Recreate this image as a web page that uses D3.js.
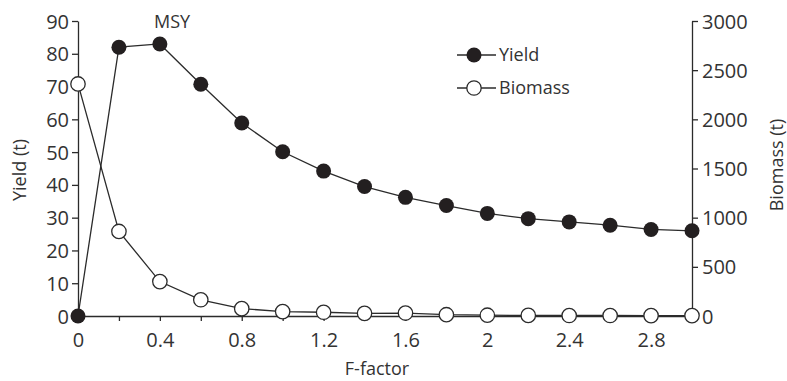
<!DOCTYPE html>
<html><head><meta charset="utf-8">
<script src="https://cdn.jsdelivr.net/npm/d3@7"></script>
<style>
body{margin:0;background:#fff;}
text{font-family:"Open Sans","Noto Sans",sans-serif;fill:#333;}
</style></head>
<body><svg id="c" width="787" height="381"></svg>
<script>
const fFactor = [0,0.2,0.4,0.6,0.8,1.0,1.2,1.4,1.6,1.8,2.0,2.2,2.4,2.6,2.8,3.0];
const yieldT = [0,82,83,70.7,58.9,50.1,44.2,39.5,36.2,33.7,31.3,29.7,28.7,27.7,26.4,26.0];
const biomassT = [2360,860,350,165,75,45,38,27,30,13,8,6,5,5,4,4];
const xTicks = [0,0.2,0.4,0.6,0.8,1.0,1.2,1.4,1.6,1.8,2.0,2.2,2.4,2.6,2.8,3.0];
const xLabels = [0,0.4,0.8,1.2,1.6,2,2.4,2.8];
const yTicks = [0,10,20,30,40,50,60,70,80,90];
const bTicks = [0,500,1000,1500,2000,2500,3000];

const svg = d3.select("#c");
const L=78,R=692,T=21,B=316;
const x = d3.scaleLinear().domain([0,3]).range([L,R]);
const y = d3.scaleLinear().domain([0,90]).range([B,T]);
const yb = d3.scaleLinear().domain([0,3000]).range([B,T]);
const ink="#2b2b2b";

// axes
const gx = svg.append("g").attr("transform",`translate(0,${B})`)
  .call(d3.axisBottom(x).tickValues(xTicks).tickSize(5).tickSizeOuter(0)
    .tickFormat(d=>xLabels.some(v=>Math.abs(v-d)<1e-9)?String(+d.toFixed(1)):""));
const gy = svg.append("g").attr("transform",`translate(${L},0)`)
  .call(d3.axisLeft(y).tickValues(yTicks).tickSize(6).tickSizeOuter(0));
const gb = svg.append("g").attr("transform",`translate(${R},0)`)
  .call(d3.axisRight(yb).tickValues(bTicks).tickSize(6).tickSizeOuter(0).tickFormat(d3.format("d")));
[gx,gy,gb].forEach(g=>{
  g.selectAll("path,line").attr("stroke",ink).attr("stroke-width",1.3);
  g.selectAll("text").style("font-size","20px").attr("fill","#333");
});
gx.selectAll("text").attr("dy","0").attr("y",31);
gy.selectAll("text").attr("x",-9).attr("dy","0.35em");
gb.selectAll("text").attr("x",10).attr("dy","0.35em");

// lines
const lineY = d3.line().x((d,i)=>x(fFactor[i])).y(d=>y(d));
const lineB = d3.line().x((d,i)=>x(fFactor[i])).y(d=>yb(d));
svg.append("path").datum(biomassT).attr("d",lineB).attr("fill","none").attr("stroke",ink).attr("stroke-width",1.3);
svg.append("path").datum(yieldT).attr("d",lineY).attr("fill","none").attr("stroke",ink).attr("stroke-width",1.3);

svg.append("g").selectAll("circle").data(biomassT).join("circle")
  .attr("cx",(d,i)=>x(fFactor[i])).attr("cy",d=>yb(d)).attr("r",7.2)
  .attr("fill","#fff").attr("stroke",ink).attr("stroke-width",1.3);
svg.append("g").selectAll("circle").data(yieldT).join("circle")
  .attr("cx",(d,i)=>x(fFactor[i])).attr("cy",d=>y(d)).attr("r",7.5)
  .attr("fill","#231f20");

// titles
svg.append("text").attr("x",377).attr("y",375).attr("text-anchor","middle").style("font-size","18px").text("F-factor");
svg.append("text").attr("transform","translate(26,170) rotate(-90)").attr("text-anchor","middle").style("font-size","18px").text("Yield (t)");
svg.append("text").attr("transform","translate(783,165) rotate(-90)").attr("text-anchor","middle").style("font-size","18px").text("Biomass (t)");
svg.append("text").attr("x",172).attr("y",28).attr("text-anchor","middle").style("font-size","18px").text("MSY");

// legend
const lg = svg.append("g");
const leg = [{name:"Yield",fill:"#231f20",cy:55},{name:"Biomass",fill:"#fff",cy:88}];
leg.forEach(l=>{
  lg.append("line").attr("x1",457).attr("x2",496).attr("y1",l.cy).attr("y2",l.cy).attr("stroke",ink).attr("stroke-width",1.3);
  lg.append("circle").attr("cx",474).attr("cy",l.cy).attr("r",l.fill==="#fff"?7.2:7.5).attr("fill",l.fill).attr("stroke",l.fill==="#fff"?ink:"none").attr("stroke-width",1.3);
  lg.append("text").attr("x",499).attr("y",l.cy+6).style("font-size","18px").text(l.name);
});
</script></body></html>
